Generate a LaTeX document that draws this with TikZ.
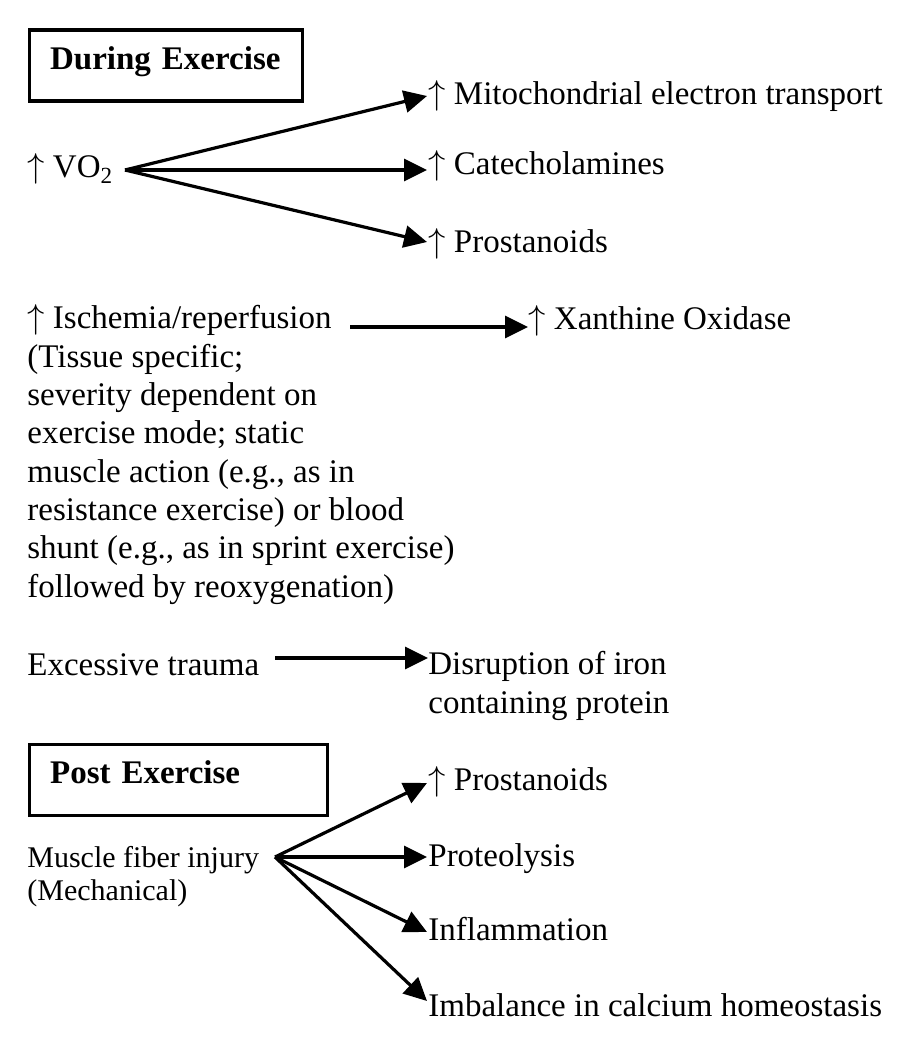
\documentclass[tikz,border=0pt]{standalone}
\usepackage{fontspec}
\setmainfont{Liberation Serif}
\usepackage{tikz}
\usetikzlibrary{arrows.meta}
\usetikzlibrary{calc}
\tikzset{>={Triangle[length=11.5pt,width=11pt]}}
\tikzset{
    txt/.style={anchor=base west, inner sep=0pt, align=left, font=\fontsize{16.5}{19.15}\selectfont},
    phase/.style={draw, ultra thick, anchor=north west, align=left, inner xsep=10.5pt, inner ysep=0pt,
        text height=11pt, text depth=7pt, minimum height=35.5pt, font=\fontsize{16.5}{19.15}\selectfont\bfseries}
}
\newcommand{\incr}{$\uparrow$}

\begin{document}
\begin{tikzpicture}[x=0.5pt, y=-0.5pt]
    \useasboundingbox (0,0) rectangle (906,1048);

    % During exercise
    \node[phase, text width=115.5pt] (during) at (27.5,28.5) {During Exercise};

    \node[txt] (vo) at (27,178) {\incr{} VO\textsubscript{2}};
    \node[txt] (mito) at (428,105) {\incr{} Mitochondrial electron transport};
    \node[txt] (cat) at (428,175) {\incr{} Catecholamines};
    \node[txt] (pros) at (428,252) {\incr{} Prostanoids};

    \coordinate (voB) at (125,170);
    \draw[ultra thick, ->] (voB) -- ($(mito.base west)+(-1,-9)$);
    \draw[ultra thick, ->] (voB) -- ($(cat.base west)+(-1,-5)$);
    \draw[ultra thick, ->] (voB) -- ($(pros.base west)+(-1,-10)$);

    % base of a multi-line node is its last line
    \node[txt] (isc) at (27,597) {\incr{} Ischemia/reperfusion\\(Tissue specific;\\severity dependent on\\exercise mode; static\\muscle action (e.g., as in\\resistance exercise) or blood\\shunt (e.g., as in sprint exercise)\\followed by reoxygenation)};
    \node[txt] (xan) at (528,329) {\incr{} Xanthine Oxidase};

    \coordinate (iscE) at (350,327);
    \draw[ultra thick, ->] (iscE) -- (iscE -| xan.base west);

    \node[txt] (trauma) at (27,675) {Excessive trauma};
    \node[txt] (dis) at (428,713) {Disruption of iron\\containing protein};

    \coordinate (trE) at (275,658);
    \draw[ultra thick, ->] (trE) -- (trE -| dis.base west);

    % Post exercise
    \node[phase, text width=128pt] (post) at (27.5,742.5) {Post Exercise};

    \node[txt, font=\fontsize{15}{16.5}\selectfont] (muscle) at (27,900) {Muscle fiber injury\\(Mechanical)};
    \node[txt] (prosB) at (428,790) {\incr{} Prostanoids};
    \node[txt] (prot) at (428,866) {Proteolysis};
    \node[txt] (infl) at (428,940) {Inflammation};
    \node[txt] (imb) at (428,1016) {Imbalance in calcium homeostasis};

    \coordinate (musB) at (275,857);
    \draw[ultra thick, ->] (musB) -- ($(prosB.base west)+(-1,-7)$);
    \draw[ultra thick, ->] (musB) -- ($(prot.base west)+(-1,-9)$);
    \draw[ultra thick, ->] (musB) -- ($(infl.base west)+(-1,-8)$);
    \draw[ultra thick, ->] (musB) -- ($(imb.base west)+(-1,-15)$);
\end{tikzpicture}
\end{document}
